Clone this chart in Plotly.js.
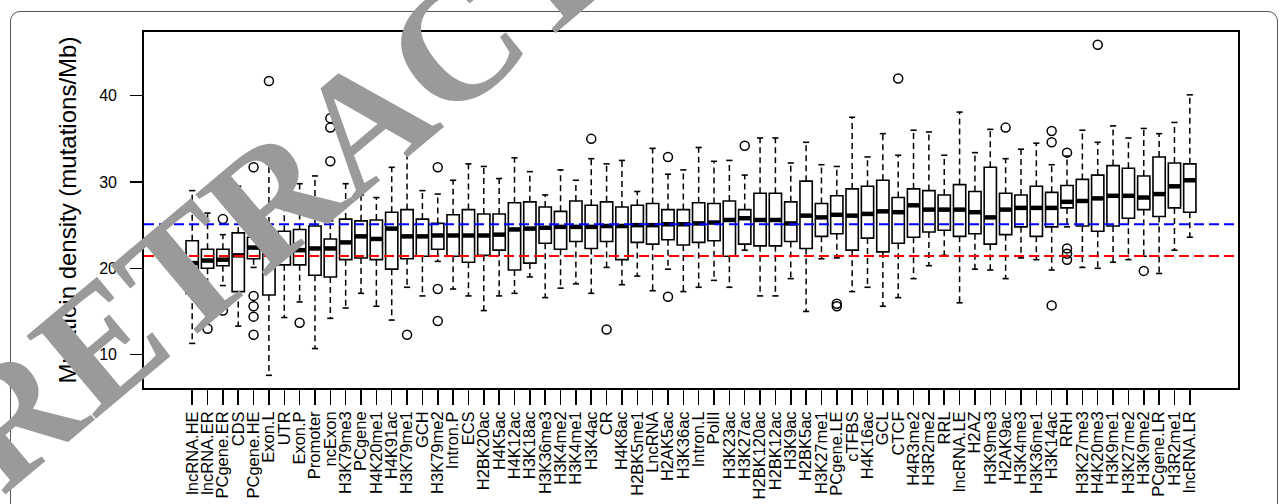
<!DOCTYPE html>
<html><head><meta charset="utf-8">
<script src="https://cdn.plot.ly/plotly-3.0.1.min.js"></script>
<style>
html,body{margin:0;padding:0;background:#fff;}
#wrap{position:relative;width:1287px;height:504px;overflow:hidden;background:#fff;}
#frame{position:absolute;left:10px;top:11px;width:1266px;height:600px;border:1px solid #555;border-radius:10px;}
#chart{position:absolute;left:0;top:0;width:1287px;height:504px;}
</style></head><body>
<div id="wrap"><div id="frame"></div><div id="chart"></div></div>
<script>
const categories = ["lncRNA.HE","lncRNA.ER","PCgene.ER","CDS","PCgene.HE","Exon.L","UTR","Exon.P","Promoter","ncExon",
"H3K79me3","PCgene","H4K20me1","H4K91ac","H3K79me1","GCH","H3K79me2","Intron.P","ECS","H2BK20ac",
"H4K5ac","H4K12ac","H3K18ac","H3K36me3","H3K4me2","H3K4me1","H3K4ac","CR","H4K8ac","H2BK5me1",
"LncRNA","H2AK5ac","H3K36ac","Intron.L","PolII","H3K23ac","H3K27ac","H2BK120ac","H2BK12ac","H3K9ac",
"H2BK5ac","H3K27me1","PCgene.LE","cTFBS","H4K16ac","GCL","CTCF","H4R3me2","H3R2me2","RRL",
"lncRNA.LE","H2AZ","H3K9me3","H2AK9ac","H3K4me3","H3K36me1","H3K14ac","RRH","H3K27me3","H4K20me3",
"H3K9me1","H3K27me2","H3K9me2","PCgene.LR","H3R2me1","lncRNA.LR"];

const lowerWhisker = [11.3,14.7,18.0,13.3,20.1,7.6,14.3,16.1,10.7,14.2,
15.4,17.1,15.6,14.0,17.8,16.8,20.8,17.6,16.8,15.1,
16.8,17.1,19.0,16.6,17.7,18.2,17.1,20.1,18.1,19.1,
17.4,19.9,17.3,17.8,18.6,17.8,22.1,16.8,16.8,18.8,
15.0,21.1,21.2,17.3,17.8,15.6,16.6,18.8,20.3,21.5,
16.0,19.9,19.8,18.8,21.2,21.0,19.8,24.8,20.1,20.0,
20.7,21.0,21.4,19.4,22.1,23.6];

const q1 = [17.1,20.0,20.3,17.3,21.1,16.9,20.4,20.4,19.2,19.0,
21.0,21.2,21.0,19.9,21.1,21.4,22.2,21.4,20.7,21.5,
22.1,19.8,20.6,22.9,22.2,23.1,22.3,23.1,21.0,23.0,
22.8,23.3,22.7,23.0,23.2,21.4,22.8,22.6,22.6,23.1,
22.3,23.7,24.0,22.1,23.5,21.9,22.9,23.6,24.2,24.4,
23.7,24.0,22.8,23.9,24.8,23.7,24.8,27.0,24.9,24.3,
24.9,25.8,26.8,26.0,27.0,26.5];

const median = [20.6,20.9,21.0,21.5,22.4,21.8,21.8,22.1,22.3,22.3,
23.0,23.7,23.4,24.6,23.7,23.7,23.8,23.8,23.8,23.8,
23.9,24.5,24.6,24.7,24.8,24.8,24.8,24.9,24.9,25.0,
25.0,25.1,25.1,25.2,25.3,25.6,25.8,25.6,25.6,25.2,
26.1,25.9,26.2,26.1,26.3,26.6,26.5,27.3,26.8,26.8,
26.8,26.5,25.9,26.8,27.0,27.0,27.0,27.7,27.8,28.1,
28.4,28.4,28.2,28.6,29.5,30.2];

const q3 = [23.2,22.2,22.2,24.1,23.6,24.1,24.3,24.5,24.9,23.4,
25.7,25.5,25.6,26.5,26.8,25.7,25.2,26.2,26.8,26.3,
26.3,27.6,27.7,27.1,26.6,27.8,27.3,27.7,27.1,27.3,
27.5,26.8,26.8,27.6,27.5,27.8,26.8,28.7,28.7,27.7,
30.1,27.5,28.4,29.2,29.5,30.2,28.2,29.2,29.0,28.5,
29.7,28.9,31.7,28.7,28.5,29.5,28.8,29.6,30.3,30.8,
31.9,31.6,30.7,32.9,32.2,32.1];

const upperWhisker = [29.0,26.4,23.9,29.5,26.8,32.2,29.3,29.8,30.7,25.5,
29.8,28.5,28.2,31.7,33.3,29.0,28.6,30.2,32.1,31.8,
30.4,32.8,31.2,28.5,31.4,30.2,32.7,32.1,32.5,28.9,
33.9,30.9,31.4,34.0,32.4,32.5,30.8,35.1,35.1,32.2,
34.6,32.0,31.8,37.5,32.9,35.6,33.1,36.0,35.8,33.1,
38.1,33.4,36.1,32.7,33.8,34.5,32.0,33.0,36.0,34.6,
36.5,35.1,36.2,35.6,36.9,40.1];

const outliers = [[],[13.0],[25.7,15.1],[],[31.7,16.8,15.6,14.4,12.3],[41.7],[],[13.7],[],[37.4,36.3,32.4],
[],[],[],[],[12.3],[],[31.7,17.6,13.9],[],[],[],
[],[],[],[],[],[],[35.0],[12.9],[],[],
[],[32.9,16.7],[],[],[],[],[34.2],[],[],[],
[],[],[15.9,15.6],[],[],[],[42.0],[],[],[],
[],[],[],[36.3],[],[],[35.9,34.6,15.7],[33.4,22.3,21.7,21.0],[],[45.9],
[],[],[19.7],[],[],[]];

const blueLineValue = 25.1;
const redLineValue = 21.43;
const yTicks = [10, 20, 30, 40];
const yTitle = "Mutatioin density (mutations/Mb)";
const watermark = "RETRACTED";

const xs = categories.map((_, i) => i);

const boxTrace = {
  type: 'box', x: xs, q1: q1, median: median, q3: q3,
  lowerfence: q1, upperfence: q3, width: 0.8, whiskerwidth: 0,
  boxpoints: false, fillcolor: 'rgba(0,0,0,0)',
  line: {color: '#000', width: 1.6}, hoverinfo: 'skip', showlegend: false
};

const wx = [], wy = [], cx = [], cy = [], mx = [], my = [], ox = [], oy = [];
xs.forEach(i => {
  wx.push(i, i, null, i, i, null);
  wy.push(q3[i], upperWhisker[i], null, q1[i], lowerWhisker[i], null);
  cx.push(i - 0.2, i + 0.2, null, i - 0.2, i + 0.2, null);
  cy.push(upperWhisker[i], upperWhisker[i], null, lowerWhisker[i], lowerWhisker[i], null);
  mx.push(i - 0.4, i + 0.4, null);
  my.push(median[i], median[i], null);
  outliers[i].forEach(v => { ox.push(i); oy.push(v); });
});

const whiskerTrace = {type: 'scatter', mode: 'lines', x: wx, y: wy, connectgaps: false,
  line: {color: '#000', width: 1.5, dash: '6px,4px'}, hoverinfo: 'skip', showlegend: false};
const capTrace = {type: 'scatter', mode: 'lines', x: cx, y: cy, connectgaps: false,
  line: {color: '#000', width: 1.6}, hoverinfo: 'skip', showlegend: false};
const medianTrace = {type: 'scatter', mode: 'lines', x: mx, y: my, connectgaps: false,
  line: {color: '#000', width: 4.5}, hoverinfo: 'skip', showlegend: false};
const outlierTrace = {type: 'scatter', mode: 'markers', x: ox, y: oy,
  marker: {symbol: 'circle-open', size: 9, color: '#000', line: {width: 1.5, color: '#000'}},
  hoverinfo: 'skip', showlegend: false};

const font = 'Liberation Sans, Arial, Helvetica, sans-serif';

const layout = {
  width: 1287, height: 504,
  margin: {l: 144, r: 49, t: 32, b: 116},
  paper_bgcolor: 'rgba(0,0,0,0)', plot_bgcolor: '#fff',
  hovermode: false, showlegend: false, boxmode: 'overlay',
  font: {family: font, color: '#000'},
  xaxis: {
    range: [-3.14, 68.14], tickmode: 'array', tickvals: xs, ticktext: categories,
    tickangle: -90, ticks: 'outside', ticklen: 15, tickwidth: 1.5, tickcolor: '#000',
    showline: true, mirror: true, linecolor: '#000', linewidth: 1.8,
    showgrid: false, zeroline: false, automargin: false,
    tickfont: {family: font, size: 16.5, color: '#000'}, ticklabelstandoff: 0
  },
  yaxis: {
    range: [6.13, 47.38], tickmode: 'array', tickvals: yTicks,
    ticks: 'outside', ticklen: 12, tickwidth: 1.5, tickcolor: '#000',
    showline: true, mirror: true, linecolor: '#000', linewidth: 1.8,
    showgrid: false, zeroline: false, automargin: false,
    tickfont: {family: font, size: 16, color: '#000'}, ticklabelstandoff: 10,
    title: {text: yTitle, font: {family: font, size: 24, color: '#000'}, standoff: 16}
  },
  shapes: [
    {type: 'line', xref: 'paper', x0: 0, x1: 1, yref: 'y', y0: blueLineValue, y1: blueLineValue,
     line: {color: '#0000ff', width: 2, dash: '10px,5px'}, layer: 'above'},
    {type: 'line', xref: 'paper', x0: 0, x1: 1, yref: 'y', y0: redLineValue, y1: redLineValue,
     line: {color: '#ff0000', width: 2, dash: '10px,5px'}, layer: 'above'}
  ],
  annotations: [
    {text: '<b>' + watermark + '</b>', xref: 'paper', yref: 'paper', x: (364 - 144) / 1094, y: (388 - 122) / 356,
     xanchor: 'center', yanchor: 'middle', showarrow: false, textangle: -40,
     font: {family: 'Liberation Serif, Times New Roman, serif', size: 165, color: '#9a9a9a'}}
  ]
};

Plotly.newPlot('chart', [boxTrace, whiskerTrace, capTrace, medianTrace, outlierTrace], layout,
  {displayModeBar: false, staticPlot: true});
</script>
</body></html>
